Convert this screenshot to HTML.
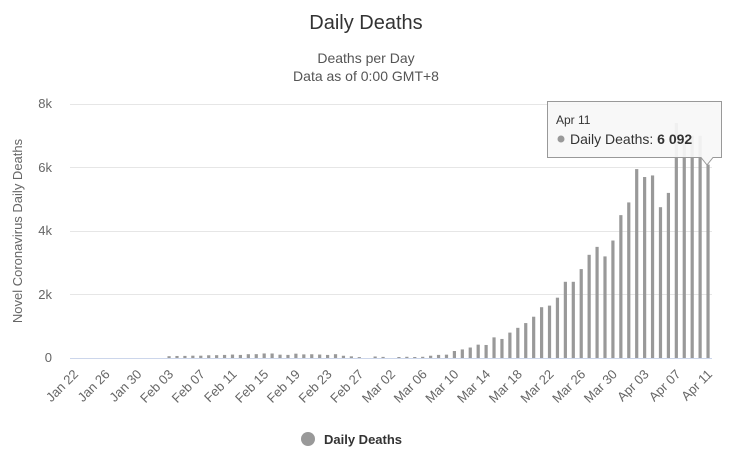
<!DOCTYPE html>
<html><head><meta charset="utf-8"><style>
body{margin:0;background:#fff;}
svg{display:block;font-family:"Liberation Sans",sans-serif;}
</style></head><body>
<svg width="732" height="456" xmlns="http://www.w3.org/2000/svg">
<text x="366" y="29" font-size="20" fill="#333" text-anchor="middle">Daily Deaths</text>
<text x="366" y="63" font-size="14" fill="#555" text-anchor="middle">Deaths per Day</text>
<text x="366" y="81" font-size="14" fill="#555" text-anchor="middle">Data as of 0:00 GMT+8</text>
<g stroke="#e6e6e6" stroke-width="1">
<line x1="70" x2="712" y1="104.5" y2="104.5"/>
<line x1="70" x2="712" y1="167.5" y2="167.5"/>
<line x1="70" x2="712" y1="231.5" y2="231.5"/>
<line x1="70" x2="712" y1="294.5" y2="294.5"/>
</g>
<line x1="70" x2="712" y1="358.5" y2="358.5" stroke="#ccd6eb"/>
<g font-size="13" fill="#666" text-anchor="end">
<text x="52" y="108">8k</text><text x="52" y="172">6k</text><text x="52" y="235">4k</text><text x="52" y="299">2k</text><text x="52" y="362">0</text>
</g>
<text transform="translate(22,231) rotate(-90)" font-size="13" fill="#666" text-anchor="middle">Novel Coronavirus Daily Deaths</text>
<g id="bars" fill="#999"></g>
<g id="labels" font-size="13" fill="#666"></g>
<g>
<path d="M547.5,101.5 H721.5 V157.5 H713 L707,165 L701,157.5 H547.5 Z" fill="#f7f7f7" fill-opacity="0.92" stroke="#999" stroke-width="1"/>
<text x="556" y="124" font-size="12" fill="#333">Apr 11</text>
<circle cx="561" cy="139" r="3.5" fill="#999"/>
<text x="570" y="144" font-size="14" fill="#333">Daily Deaths: <tspan font-weight="bold">6 092</tspan></text>
</g>
<circle cx="308" cy="439" r="7" fill="#999"/>
<text x="324" y="444" font-size="13" font-weight="bold" fill="#333">Daily Deaths</text>
</svg>
<script>
var v=[0,0,0,0,0,0,0,0,0,0,0,0,57,64,66,73,73,86,89,97,108,97,120,121,143,142,105,98,136,114,118,109,97,120,71,52,29,0,47,35,0,31,38,31,38,72,98,105,220,270,330,420,410,650,600,800,950,1100,1300,1600,1650,1900,2400,2400,2800,3250,3500,3200,3700,4500,4900,5950,5700,5750,4750,5200,7400,6800,7000,7000,6092];
var s=642/81,b=document.getElementById('bars'),l=document.getElementById('labels'),ns='http://www.w3.org/2000/svg';
var m=['Jan','Feb','Mar','Apr'],md=[31,29,31,30];
for(var i=0;i<81;i++){var h=v[i]*254/8000;if(h>0.5){var r=document.createElementNS(ns,'rect');r.setAttribute('x',70+s*i+s/2-1.6);r.setAttribute('width',3.2);r.setAttribute('y',358-h);r.setAttribute('height',h);b.appendChild(r);}
if(i%4==0){var d=22+i,mi=0;while(d>md[mi]){d-=md[mi];mi++;}var t=document.createElementNS(ns,'text');var x=70+s*i+s/2+5,y=375;t.setAttribute('transform','translate('+x+','+y+') rotate(-45)');t.setAttribute('text-anchor','end');t.textContent=m[mi]+' '+(d<10?'0'+d:d);l.appendChild(t);}}
</script>
</body></html>
